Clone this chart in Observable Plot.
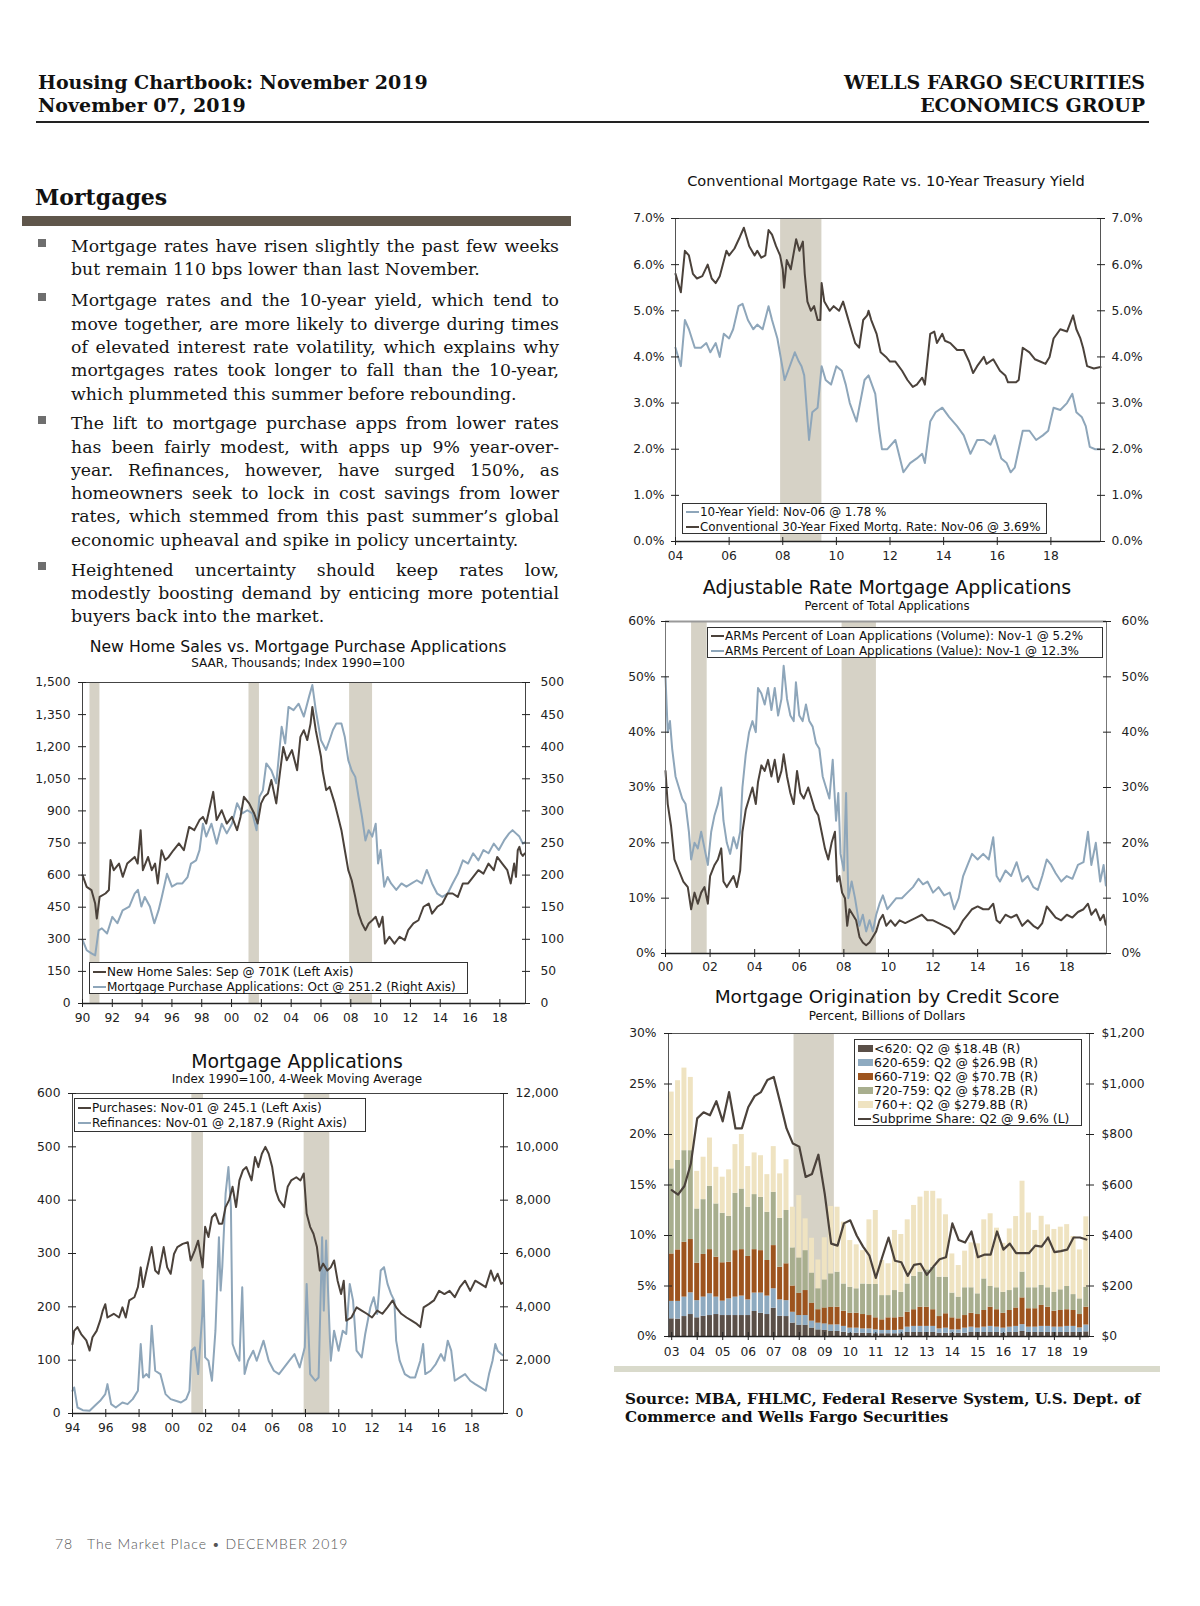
<!DOCTYPE html>
<html><head><meta charset="utf-8">
<script src="https://cdn.jsdelivr.net/npm/d3@7"></script>
<script src="https://cdn.jsdelivr.net/npm/@observablehq/plot@0.6"></script>
<style>
body{margin:0;background:#fff}
#page{position:relative;width:1200px;height:1606px;overflow:hidden;background:#fff;color:#111}
.hdr{position:absolute;font-family:"DejaVu Serif",serif;font-weight:bold;font-size:19px;line-height:22.6px;color:#111;white-space:nowrap}
.para{position:absolute;left:71px;width:488px;font-family:"DejaVu Serif",serif;font-size:17.3px;line-height:23.3px;color:#151515}
.para div{text-align:justify;text-align-last:justify;white-space:nowrap}
.para div.last{text-align-last:left}
.bullet{position:absolute;left:38px;width:8px;height:8px;background:#6e6e6e}
.ctitle{position:absolute;width:560px;text-align:center;font-family:"DejaVu Sans",sans-serif;color:#111;white-space:nowrap}
.legend{position:absolute;border:1px solid #333;background:#fff;font-family:"DejaVu Sans",sans-serif;color:#111;box-sizing:border-box;padding:1px 3px;white-space:nowrap}
.legend .row{display:flex;align-items:center}
</style>
</head><body>
<div id="page">
  <div class="hdr" style="left:38px;top:71px">Housing Chartbook: November 2019<br>November 07, 2019</div>
  <div class="hdr" style="right:55px;top:71px;text-align:right">WELLS FARGO SECURITIES<br>ECONOMICS GROUP</div>
  <div style="position:absolute;left:36px;top:121px;width:1113px;height:2px;background:#222"></div>

  <div style="position:absolute;left:35px;top:183px;font-family:'DejaVu Serif',serif;font-weight:bold;font-size:22px;line-height:28px;color:#111">Mortgages</div>
  <div style="position:absolute;left:22px;top:216px;width:549px;height:10px;background:#5f564b"></div>

  <div id="textblock" style="position:absolute;left:0;top:0;width:600px;height:628px;overflow:hidden">
    <div class="bullet" style="top:239px"></div>
    <div class="para" style="top:235px">
      <div>Mortgage rates have risen slightly the past few weeks</div>
      <div class="last">but remain 110 bps lower than last November.</div>
    </div>
    <div class="bullet" style="top:293px"></div>
    <div class="para" style="top:289.4px">
      <div>Mortgage rates and the 10-year yield, which tend to</div>
      <div>move together, are more likely to diverge during times</div>
      <div>of elevated interest rate volatility, which explains why</div>
      <div>mortgages rates took longer to fall than the 10-year,</div>
      <div class="last">which plummeted this summer before rebounding.</div>
    </div>
    <div class="bullet" style="top:416px"></div>
    <div class="para" style="top:412.3px">
      <div>The lift to mortgage purchase apps from lower rates</div>
      <div>has been fairly modest, with apps up 9% year-over-</div>
      <div>year. Refinances, however, have surged 150%, as</div>
      <div>homeowners seek to lock in cost savings from lower</div>
      <div>rates, which stemmed from this past summer’s global</div>
      <div class="last">economic upheaval and spike in policy uncertainty.</div>
    </div>
    <div class="bullet" style="top:562px"></div>
    <div class="para" style="top:558.7px">
      <div>Heightened uncertainty should keep rates low,</div>
      <div>modestly boosting demand by enticing more potential</div>
      <div class="last">buyers back into the market.</div>
    </div>
  </div>

  <div style="position:absolute;left:614px;top:1366px;width:546px;height:6px;background:#d9dacb"></div>
  <div style="position:absolute;left:625px;top:1390px;font-family:'DejaVu Serif',serif;font-weight:bold;font-size:15.2px;line-height:18px;color:#111;white-space:nowrap">Source: MBA, FHLMC, Federal Reserve System, U.S. Dept. of<br>Commerce and Wells Fargo Securities</div>
  <div style="position:absolute;left:55px;top:1535px;font-family:Lato,sans-serif;font-weight:300;font-size:14px;line-height:18px;color:#555;letter-spacing:0.95px;white-space:nowrap">78&nbsp;&nbsp;&nbsp;The Market Place • DECEMBER 2019</div>
</div>
<script>
// ---------------- DATA ----------------
const recessions9019 = [[1990.5, 1991.17], [2001.17, 2001.87], [2007.92, 2009.46]];

// Chart 1: Conventional mortgage rate vs 10-year yield (%)
const mortgage30 = [[2004.0,5.8],[2004.1,5.6],[2004.2,5.4],[2004.35,6.3],[2004.5,6.2],[2004.65,5.8],[2004.8,5.7],[2005.0,5.75],[2005.2,6.0],[2005.35,5.7],[2005.5,5.6],[2005.65,5.75],[2005.9,6.3],[2006.0,6.2],[2006.2,6.35],[2006.4,6.6],[2006.55,6.8],[2006.65,6.6],[2006.75,6.4],[2006.95,6.2],[2007.05,6.3],[2007.2,6.15],[2007.35,6.2],[2007.47,6.75],[2007.6,6.65],[2007.75,6.4],[2007.9,6.2],[2008.0,5.9],[2008.05,5.5],[2008.15,6.1],[2008.3,5.9],[2008.5,6.55],[2008.62,6.3],[2008.75,6.5],[2008.82,5.8],[2008.92,5.2],[2009.05,5.0],[2009.17,5.1],[2009.3,4.8],[2009.4,4.8],[2009.45,5.6],[2009.55,5.2],[2009.75,5.0],[2009.9,5.1],[2010.1,5.0],[2010.25,5.2],[2010.4,4.9],[2010.55,4.6],[2010.7,4.3],[2010.85,4.2],[2011.0,4.8],[2011.15,4.9],[2011.2,5.0],[2011.3,4.8],[2011.5,4.5],[2011.65,4.1],[2011.85,4.0],[2012.0,3.9],[2012.2,3.9],[2012.45,3.7],[2012.65,3.5],[2012.85,3.35],[2013.0,3.4],[2013.2,3.55],[2013.3,3.4],[2013.5,4.5],[2013.65,4.55],[2013.75,4.3],[2013.95,4.5],[2014.05,4.35],[2014.25,4.3],[2014.5,4.15],[2014.75,4.15],[2014.95,3.9],[2015.1,3.65],[2015.25,3.8],[2015.5,4.0],[2015.6,3.85],[2015.85,3.95],[2016.1,3.7],[2016.3,3.6],[2016.4,3.45],[2016.7,3.45],[2016.8,3.5],[2016.95,4.2],[2017.2,4.1],[2017.4,3.95],[2017.6,3.9],[2017.8,3.85],[2017.95,4.0],[2018.1,4.4],[2018.35,4.6],[2018.6,4.55],[2018.83,4.9],[2018.95,4.6],[2019.1,4.4],[2019.2,4.2],[2019.35,3.8],[2019.6,3.75],[2019.85,3.78]];
const yield10 = [[2004.0,4.2],[2004.1,4.0],[2004.2,3.8],[2004.35,4.8],[2004.5,4.6],[2004.72,4.2],[2004.95,4.2],[2005.15,4.3],[2005.3,4.1],[2005.5,4.3],[2005.65,4.0],[2005.8,4.5],[2006.0,4.4],[2006.15,4.6],[2006.35,5.1],[2006.5,5.15],[2006.7,4.8],[2006.9,4.6],[2007.05,4.7],[2007.25,4.6],[2007.47,5.1],[2007.6,4.8],[2007.7,4.6],[2007.8,4.4],[2007.92,4.0],[2008.07,3.5],[2008.2,3.7],[2008.45,4.1],[2008.6,3.9],[2008.7,3.8],[2008.8,3.6],[2008.98,2.2],[2009.1,2.8],[2009.3,2.9],[2009.45,3.8],[2009.6,3.5],[2009.8,3.4],[2010.0,3.8],[2010.2,3.7],[2010.35,3.4],[2010.5,3.0],[2010.75,2.6],[2010.85,2.9],[2011.05,3.5],[2011.2,3.6],[2011.45,3.2],[2011.6,2.4],[2011.7,2.0],[2011.9,2.0],[2012.2,2.2],[2012.5,1.5],[2012.75,1.7],[2013.0,1.8],[2013.2,1.9],[2013.3,1.7],[2013.5,2.6],[2013.7,2.8],[2013.95,2.9],[2014.2,2.7],[2014.5,2.5],[2014.75,2.3],[2015.0,1.9],[2015.25,2.2],[2015.5,2.2],[2015.75,2.1],[2015.9,2.3],[2016.15,1.8],[2016.35,1.7],[2016.5,1.5],[2016.65,1.6],[2016.95,2.4],[2017.2,2.4],[2017.45,2.2],[2017.7,2.3],[2017.9,2.4],[2018.1,2.9],[2018.35,2.85],[2018.6,3.0],[2018.8,3.2],[2018.95,2.8],[2019.15,2.7],[2019.3,2.5],[2019.45,2.05],[2019.65,2.0],[2019.85,2.0]];
const ratesYTicks = [0, 1, 2, 3, 4, 5, 6, 7];
const ratesXTicks = [2004, 2006, 2008, 2010, 2012, 2014, 2016, 2018];

// Chart 2: ARM share of applications (%)
const armVolume = [[2000.0,33],[2000.05,30],[2000.1,27],[2000.25,23],[2000.4,17],[2000.6,15],[2000.8,13],[2001.0,12],[2001.15,8],[2001.3,11],[2001.45,9],[2001.6,11],[2001.75,12],[2001.9,9],[2002.0,14],[2002.2,16],[2002.35,17],[2002.5,19],[2002.6,13],[2002.75,12],[2002.9,13],[2003.05,14],[2003.2,12],[2003.35,15],[2003.45,22],[2003.6,26],[2003.75,28],[2003.9,30],[2004.05,27],[2004.15,31],[2004.3,34],[2004.45,33],[2004.6,35],[2004.75,32],[2004.9,35],[2005.05,31],[2005.2,33],[2005.3,36],[2005.45,32],[2005.6,29],[2005.75,27],[2005.9,33],[2006.05,29],[2006.2,28],[2006.4,30],[2006.55,28],[2006.7,26],[2006.85,25],[2007.0,22],[2007.15,19],[2007.3,17],[2007.45,20],[2007.6,22],[2007.7,13],[2007.8,14],[2007.92,11],[2008.05,10],[2008.15,5],[2008.25,8],[2008.4,7],[2008.55,6],[2008.7,3],[2008.85,2],[2009.0,1.5],[2009.15,2],[2009.3,3],[2009.45,4],[2009.6,6],[2009.75,7],[2009.9,5],[2010.1,6],[2010.3,5],[2010.5,6],[2010.75,5.5],[2011.0,6],[2011.25,6.5],[2011.5,7],[2011.75,6],[2012.0,6],[2012.25,5.5],[2012.5,5],[2012.75,4.5],[2012.95,3.5],[2013.15,4.5],[2013.35,6],[2013.55,7],[2013.75,8],[2014.0,8.5],[2014.25,8],[2014.5,8],[2014.7,9],[2014.85,6],[2015.0,5.5],[2015.25,7],[2015.5,6.5],[2015.75,7],[2016.0,5],[2016.25,6],[2016.5,5],[2016.7,4.5],[2016.9,5.5],[2017.1,8.5],[2017.3,7.5],[2017.5,6.5],[2017.75,6],[2018.0,7],[2018.25,6.5],[2018.5,7.5],[2018.75,8],[2018.95,9],[2019.1,7],[2019.3,8],[2019.5,6],[2019.65,7],[2019.75,5.2]];
const armValue = [[2000.0,50],[2000.05,45],[2000.1,40],[2000.2,42],[2000.3,37],[2000.45,32],[2000.6,30],[2000.75,28],[2000.9,27],[2001.05,22],[2001.15,17],[2001.3,20],[2001.45,19],[2001.6,22],[2001.75,19],[2001.9,16],[2002.05,22],[2002.2,25],[2002.35,27],[2002.5,30],[2002.6,24],[2002.75,20],[2002.9,18],[2003.05,21],[2003.2,19],[2003.35,22],[2003.45,30],[2003.6,36],[2003.75,40],[2003.9,42],[2004.05,40],[2004.15,48],[2004.3,47],[2004.45,45],[2004.6,48],[2004.75,44],[2004.9,48],[2005.05,43],[2005.2,46],[2005.3,52],[2005.45,46],[2005.6,43],[2005.75,42],[2005.85,49],[2006.0,43],[2006.15,42],[2006.3,45],[2006.45,42],[2006.6,41],[2006.75,38],[2006.9,37],[2007.05,32],[2007.2,30],[2007.35,28],[2007.5,35],[2007.65,24],[2007.75,29],[2007.85,18],[2008.0,15],[2008.1,29],[2008.2,10],[2008.35,13],[2008.5,10],[2008.7,5],[2008.85,7],[2009.0,4],[2009.15,6],[2009.3,4],[2009.45,7],[2009.6,9],[2009.75,10.5],[2009.95,8],[2010.15,9],[2010.35,10],[2010.6,10],[2010.85,11],[2011.1,12],[2011.35,13.5],[2011.55,12.5],[2011.75,13],[2012.0,11],[2012.25,12],[2012.5,10.5],[2012.75,11],[2012.95,8],[2013.15,10],[2013.35,14],[2013.55,16],[2013.75,18],[2014.0,17],[2014.25,18],[2014.5,17],[2014.7,21],[2014.85,14],[2015.0,13],[2015.25,15],[2015.5,14],[2015.75,16.5],[2016.0,13],[2016.25,14],[2016.5,12],[2016.7,11.5],[2016.9,14],[2017.1,17],[2017.3,16],[2017.5,14.5],[2017.75,13],[2018.0,14],[2018.25,13.5],[2018.5,16],[2018.75,16.5],[2018.95,22],[2019.1,16],[2019.3,20],[2019.5,13],[2019.65,16],[2019.75,12.3]];
const armYTicks = [0, 10, 20, 30, 40, 50, 60];
const armXTicks = [2000, 2002, 2004, 2006, 2008, 2010, 2012, 2014, 2016, 2018];

// Chart 3: New home sales (thousands, left) vs purchase applications index (right)
const newHomeSales = [[1990.0,600],[1990.28,545],[1990.6,530],[1990.85,467],[1990.96,397],[1991.15,498],[1991.54,514],[1991.77,530],[1991.88,670],[1992.1,623],[1992.45,654],[1992.7,592],[1993.0,654],[1993.5,685],[1993.7,654],[1993.9,810],[1994.05,623],[1994.4,685],[1994.65,623],[1994.87,654],[1995.05,561],[1995.3,716],[1995.55,670],[1995.78,685],[1996.1,716],[1996.47,748],[1996.8,716],[1997.15,825],[1997.5,810],[1997.85,857],[1998.08,872],[1998.3,841],[1998.77,989],[1999.0,857],[1999.34,903],[1999.68,841],[2000.03,872],[2000.37,810],[2000.6,872],[2000.83,966],[2001.18,935],[2001.52,888],[2001.75,841],[2001.98,935],[2002.2,966],[2002.44,981],[2002.67,1044],[2003.0,935],[2003.24,1075],[2003.47,1199],[2003.7,1137],[2004.05,1184],[2004.4,1090],[2004.62,1246],[2004.85,1277],[2005.08,1231],[2005.3,1308],[2005.42,1386],[2005.65,1277],[2006.0,1153],[2006.1,1090],[2006.35,997],[2006.58,1012],[2006.92,935],[2007.15,872],[2007.37,810],[2007.6,716],[2007.83,623],[2008.06,576],[2008.3,498],[2008.52,420],[2008.75,374],[2008.98,343],[2009.2,374],[2009.44,389],[2009.67,405],[2009.9,358],[2010.0,374],[2010.13,405],[2010.29,280],[2010.59,312],[2010.93,280],[2011.27,312],[2011.62,296],[2011.85,343],[2012.2,374],[2012.54,389],[2012.88,452],[2013.23,467],[2013.45,420],[2013.8,452],[2014.14,467],[2014.49,514],[2014.83,514],[2015.18,498],[2015.52,561],[2015.87,561],[2016.21,592],[2016.56,623],[2016.9,607],[2017.24,654],[2017.59,623],[2017.82,685],[2018.16,654],[2018.5,623],[2018.73,561],[2018.96,654],[2019.08,592],[2019.2,716],[2019.31,732],[2019.42,701],[2019.54,690],[2019.67,701]];
const purchaseIndex = [[1990.0,99],[1990.28,83],[1990.6,78],[1990.85,75],[1991.08,114],[1991.3,117],[1991.65,109],[1992.0,135],[1992.34,125],[1992.69,145],[1993.14,151],[1993.5,171],[1993.72,177],[1993.95,151],[1994.18,166],[1994.52,151],[1994.82,125],[1995.1,145],[1995.32,166],[1995.67,202],[1996.0,182],[1996.36,187],[1996.7,187],[1997.05,197],[1997.28,218],[1997.62,223],[1997.85,239],[1998.08,280],[1998.3,260],[1998.65,280],[1999.0,249],[1999.34,280],[1999.68,265],[2000.03,280],[2000.37,312],[2000.72,296],[2001.06,301],[2001.4,296],[2001.68,270],[2001.87,322],[2002.1,332],[2002.33,374],[2002.67,363],[2003.0,343],[2003.36,431],[2003.6,405],[2003.82,462],[2004.16,457],[2004.5,467],[2004.85,447],[2005.2,478],[2005.42,496],[2005.65,457],[2006.0,410],[2006.34,395],[2006.57,410],[2006.8,426],[2007.03,436],[2007.37,436],[2007.6,415],[2007.83,379],[2008.06,363],[2008.3,353],[2008.52,322],[2008.75,291],[2008.98,254],[2009.2,270],[2009.44,260],[2009.67,280],[2009.83,218],[2010.0,239],[2010.24,182],[2010.47,197],[2010.7,187],[2011.05,177],[2011.4,187],[2011.73,182],[2012.08,187],[2012.43,192],[2012.77,187],[2013.1,208],[2013.45,187],[2013.8,171],[2014.14,166],[2014.49,171],[2014.83,187],[2015.18,202],[2015.52,223],[2015.87,218],[2016.21,234],[2016.56,223],[2016.9,239],[2017.24,234],[2017.59,249],[2017.93,239],[2018.28,254],[2018.62,265],[2018.85,270],[2019.08,265],[2019.31,260],[2019.54,249],[2019.67,251]];
const salesYTicks = [0, 150, 300, 450, 600, 750, 900, 1050, 1200, 1350, 1500];
const indexYTicks = [0, 50, 100, 150, 200, 250, 300, 350, 400, 450, 500];
const salesXTicks = [1990, 1992, 1994, 1996, 1998, 2000, 2002, 2004, 2006, 2008, 2010, 2012, 2014, 2016, 2018];

// Chart 4: Mortgage applications, purchases (left) and refinances (right)
const purchases = [[1994.0,130],[1994.1,155],[1994.3,162],[1994.52,149],[1994.83,137],[1995.03,118],[1995.2,143],[1995.45,155],[1995.66,174],[1995.82,193],[1995.97,205],[1996.1,180],[1996.48,187],[1996.8,180],[1997.0,199],[1997.2,180],[1997.41,212],[1997.72,218],[1997.93,237],[1998.1,274],[1998.24,237],[1998.45,268],[1998.76,312],[1998.97,268],[1999.17,262],[1999.48,312],[1999.69,274],[1999.9,262],[2000.1,299],[2000.3,312],[2000.62,318],[2000.93,321],[2001.1,287],[2001.35,306],[2001.55,324],[2001.82,274],[2001.97,350],[2002.17,331],[2002.38,368],[2002.59,375],[2002.8,356],[2003.0,356],[2003.2,387],[2003.41,400],[2003.62,425],[2003.83,387],[2004.03,437],[2004.24,456],[2004.45,462],[2004.76,437],[2004.97,481],[2005.17,462],[2005.38,487],[2005.59,500],[2005.79,487],[2006.0,462],[2006.21,418],[2006.41,400],[2006.72,387],[2006.93,425],[2007.14,437],[2007.45,443],[2007.7,437],[2007.9,450],[2008.07,375],[2008.28,350],[2008.48,337],[2008.69,312],[2008.86,268],[2009.06,281],[2009.31,268],[2009.52,274],[2009.72,287],[2009.93,249],[2010.14,224],[2010.3,249],[2010.45,174],[2010.76,180],[2011.07,199],[2011.38,193],[2011.69,187],[2012.0,180],[2012.31,193],[2012.62,187],[2012.93,199],[2013.24,212],[2013.45,199],[2013.76,187],[2014.07,180],[2014.38,174],[2014.69,168],[2014.9,162],[2015.1,199],[2015.41,205],[2015.72,212],[2016.03,230],[2016.35,224],[2016.66,230],[2016.97,218],[2017.28,237],[2017.59,249],[2017.9,230],[2018.2,249],[2018.52,243],[2018.83,237],[2019.14,268],[2019.35,249],[2019.55,262],[2019.76,243],[2019.86,245]];
const refinances = [[1994.0,852],[1994.1,977],[1994.3,225],[1994.62,125],[1995.03,100],[1995.34,288],[1995.66,476],[1995.97,727],[1996.1,1102],[1996.32,351],[1996.6,225],[1997.0,413],[1997.31,351],[1997.62,539],[1997.93,852],[1998.1,2605],[1998.24,1353],[1998.45,1478],[1998.6,1353],[1998.76,3294],[1998.97,1603],[1999.28,1478],[1999.59,727],[1999.9,539],[2000.2,476],[2000.52,413],[2000.83,539],[2001.03,852],[2001.14,2355],[2001.35,2480],[2001.55,1478],[2001.8,3733],[2001.86,4985],[2001.97,2104],[2002.17,1979],[2002.38,1228],[2002.59,3106],[2002.8,6614],[2002.9,4610],[2003.0,5487],[2003.2,8242],[2003.37,9244],[2003.52,7741],[2003.62,2605],[2003.83,2230],[2004.03,1979],[2004.2,4735],[2004.34,1478],[2004.55,1979],[2004.86,2355],[2005.07,1979],[2005.48,2731],[2005.79,1979],[2006.1,1603],[2006.41,1478],[2006.72,1729],[2007.03,1979],[2007.34,2230],[2007.65,1729],[2007.96,2480],[2008.07,4860],[2008.28,1478],[2008.59,1228],[2008.79,1353],[2009.0,6614],[2009.1,3858],[2009.24,6489],[2009.41,3733],[2009.52,1979],[2009.72,3106],[2009.99,2355],[2010.24,3106],[2010.45,2981],[2010.66,4860],[2010.86,4234],[2011.07,2355],[2011.38,2104],[2011.59,2981],[2011.9,3983],[2012.1,4359],[2012.31,3733],[2012.52,5361],[2012.72,5487],[2012.93,4860],[2013.14,4484],[2013.34,4234],[2013.45,2731],[2013.66,1979],[2013.97,1478],[2014.28,1353],[2014.59,1353],[2014.9,1979],[2015.07,2605],[2015.2,1478],[2015.52,1603],[2015.83,1854],[2016.14,2230],[2016.35,1979],[2016.55,2731],[2016.76,2355],[2016.97,1228],[2017.28,1353],[2017.59,1478],[2017.9,1228],[2018.2,1102],[2018.52,977],[2018.83,852],[2019.03,1478],[2019.24,1979],[2019.41,2605],[2019.55,2355],[2019.76,2230],[2019.86,2188]];
const appsYTicks = [0, 100, 200, 300, 400, 500, 600];
const refiYTicks = [0, 2000, 4000, 6000, 8000, 10000, 12000];
const appsXTicks = [1994, 1996, 1998, 2000, 2002, 2004, 2006, 2008, 2010, 2012, 2014, 2016, 2018];

// Chart 5: Mortgage origination by credit score (quarterly, 2003Q1-2019Q2, $B) and subprime share (%)
const originYears = [2003, 2004, 2005, 2006, 2007, 2008, 2009, 2010, 2011, 2012, 2013, 2014, 2015, 2016, 2017, 2018, 2019];
const scoreBands = ["<620", "620-659", "660-719", "720-759", "760+"];
const scoreColors = ["#5a4f48", "#8eaac0", "#9d541e", "#a8ae8e", "#efe3c1"];
const under620 = [70,69,79,87,74,80,83,87,83,83,83,83,83,99,92,87,112,80,79,53,44,44,33,26,24,20,20,17,13,13,13,12,11,11,11,11,11,16,16,16,16,16,13,13,13,13,13,16,16,16,16,16,13,16,16,20,16,16,16,16,16,16,16,16,16,18.4];
const s620to659 = [69,70,77,86,68,76,86,69,57,66,73,77,62,73,80,73,77,65,63,43,39,39,28,27,26,26,26,23,20,20,17,18,15,13,13,13,15,21,24,24,24,24,17,20,13,13,20,21,17,21,24,21,20,21,24,27,21,21,24,24,21,21,24,24,18,26.9];
const s660to719 = [188,204,217,211,148,169,175,158,152,145,184,184,172,172,168,141,171,129,146,104,88,99,71,53,63,70,70,60,59,59,57,53,48,42,50,50,51,59,66,76,76,66,49,57,48,44,50,55,54,66,76,69,59,66,73,106,73,73,83,76,63,66,66,63,53,70.7];
const s720to759 = [337,354,363,352,215,217,251,211,196,182,227,240,195,218,211,191,211,194,211,151,140,158,119,83,111,132,139,108,103,97,121,123,132,96,88,108,98,112,132,139,148,168,156,145,98,86,110,101,82,125,82,87,83,79,80,102,83,83,79,77,75,82,92,63,62,78.2];
const s760plus = [304,316,327,290,149,168,191,145,143,184,193,216,161,165,165,149,181,176,201,161,247,126,138,114,167,267,257,245,185,174,132,256,293,139,126,238,229,254,281,297,311,301,310,247,155,125,145,178,198,234,288,236,194,244,282,360,296,227,274,249,249,248,245,230,194,279.8];
const subprimeShare = [14.5,14.05,14.9,17.1,21.6,22.2,21.9,23.3,21.3,24.2,20.6,20.6,22.7,23.8,24.2,25.4,25.7,23.2,20.6,19.1,18.8,15.8,16.1,18.0,14.1,9.2,9.0,11.2,11.5,10.0,8.9,8.0,5.8,7.85,9.8,7.5,7.35,6.0,7.1,7.2,6.1,6.9,7.65,7.85,11.2,9.55,9.3,10.4,7.85,8.1,8.1,10.4,8.6,9.2,8.25,8.25,8.25,9.0,8.9,9.8,8.35,8.45,8.6,9.8,9.8,9.6];
const shareYTicks = [0, 5, 10, 15, 20, 25, 30];
const dollarTicks = [0, 200, 400, 600, 800, 1000, 1200];
const recessionOrig = [[2007.92, 2009.5]];

// ---------------- STYLES ----------------
const DARK = "#4b423b", BLUE = "#8ea6ba", REC = "#d6d2c6";
const page = document.getElementById("page");
const yy = v => String(Math.round(v) % 100).padStart(2, "0");

function place(node, left, top, clipH) {
  const d = document.createElement("div");
  d.style.cssText = `position:absolute;left:${left}px;top:${top}px;` + (clipH ? `height:${clipH}px;overflow:hidden;` : "");
  d.append(node);
  page.append(d);
}
function title(cx, cy, text, size) {
  const d = document.createElement("div");
  d.className = "ctitle";
  d.style.left = (cx - 280) + "px";
  d.style.top = (cy - size * 0.6) + "px";
  d.style.fontSize = size + "px";
  d.style.lineHeight = (size * 1.2) + "px";
  d.textContent = text;
  page.append(d);
}
function legend(left, top, w, h, fs, rowH, items) {
  const d = document.createElement("div");
  d.className = "legend";
  d.style.cssText += `left:${left}px;top:${top}px;width:${w}px;height:${h}px;font-size:${fs}px;`;
  for (const it of items) {
    const r = document.createElement("div");
    r.className = "row";
    r.style.height = rowH + "px";
    const sw = document.createElement("span");
    sw.style.cssText = it.box
      ? `display:inline-block;width:15px;height:7px;background:${it.color};margin-right:1px;flex:none`
      : `display:inline-block;width:13px;height:2px;background:${it.color};margin-right:1px;flex:none`;
    const t = document.createElement("span");
    t.textContent = it.text;
    r.append(sw, t);
    d.append(r);
  }
  page.append(d);
}
function axes({xTicks, xFmt, yTicks, yFmt, rFmt, lPad, rPad, xPad}) {
  return [
    Plot.axisY(yTicks, {anchor: "left", tickSize: 8, dx: 4, tickFormat: () => "", label: null}),
    Plot.axisY(yTicks, {anchor: "left", tickSize: 0, tickPadding: lPad, tickFormat: yFmt, label: null}),
    Plot.axisY(yTicks, {anchor: "right", tickSize: 8, dx: -4, tickFormat: () => "", label: null}),
    Plot.axisY(yTicks, {anchor: "right", tickSize: 0, tickPadding: rPad, tickFormat: rFmt, label: null}),
    Plot.axisX(xTicks, {anchor: "bottom", tickSize: 8, dy: -4, tickFormat: () => "", label: null}),
    Plot.axisX(xTicks, {anchor: "bottom", tickSize: 0, tickPadding: xPad, tickFormat: xFmt, label: null})
  ];
}
const baseStyle = {fontFamily: "DejaVu Sans, sans-serif", fontSize: "12.3px", color: "#222", background: "transparent", overflow: "visible"};

// ---------------- CHART 1 ----------------
{
  const top = ratesYTicks[ratesYTicks.length - 1];
  const chart = Plot.plot({
    width: 530, height: 360, marginLeft: 60, marginRight: 45, marginTop: 13, marginBottom: 24,
    x: {domain: [2004, 2019.85]}, y: {domain: [0, top]},
    style: baseStyle,
    marks: [
      Plot.rect(recessions9019.filter(r => r[0] > 2004), {x1: d => d[0], x2: d => d[1], y1: () => 0, y2: () => top, fill: REC}),
      Plot.line(yield10, {x: d => d[0], y: d => d[1], stroke: BLUE, strokeWidth: 2}),
      Plot.line(mortgage30, {x: d => d[0], y: d => d[1], stroke: DARK, strokeWidth: 2}),
      Plot.frame({stroke: "#555"}),
      Plot.ruleY([0], {stroke: "#222", strokeWidth: 1.6}),
      ...axes({xTicks: ratesXTicks, xFmt: yy, yTicks: ratesYTicks, yFmt: v => v.toFixed(1) + "%", rFmt: v => v.toFixed(1) + "%", lPad: 11, rPad: 11, xPad: 10})
    ]
  });
  place(chart, 615, 205);
  title(886, 181, "Conventional Mortgage Rate vs. 10-Year Treasury Yield", 14.6);
  legend(682, 503, 365, 31, 11.9, 14.5, [
    {color: BLUE, text: "10-Year Yield: Nov-06 @ 1.78 %"},
    {color: DARK, text: "Conventional 30-Year Fixed Mortg. Rate: Nov-06 @ 3.69%"}
  ]);
}

// ---------------- CHART 2 ----------------
{
  const top = armYTicks[armYTicks.length - 1];
  const chart = Plot.plot({
    width: 550, height: 380, marginLeft: 55, marginRight: 54, marginTop: 13, marginBottom: 35,
    x: {domain: [2000, 2019.78]}, y: {domain: [0, top]},
    style: baseStyle,
    marks: [
      Plot.rect(recessions9019.filter(r => r[0] > 2000), {x1: d => d[0], x2: d => d[1], y1: () => 0, y2: () => top, fill: REC}),
      Plot.line(armValue, {x: d => d[0], y: d => d[1], stroke: BLUE, strokeWidth: 2}),
      Plot.line(armVolume, {x: d => d[0], y: d => d[1], stroke: DARK, strokeWidth: 2}),
      Plot.frame({stroke: "#777"}),
      Plot.ruleY([top], {stroke: "#999", strokeWidth: 2}),
      Plot.ruleY([0], {stroke: "#222", strokeWidth: 1.6}),
      ...axes({xTicks: armXTicks, xFmt: yy, yTicks: armYTicks, yFmt: v => v + "%", rFmt: v => v + "%", lPad: 10, rPad: 15, xPad: 9})
    ]
  });
  place(chart, 610, 608);
  title(887, 587, "Adjustable Rate Mortgage Applications", 19);
  title(887, 606, "Percent of Total Applications", 11.7);
  legend(707, 627, 396, 31, 12, 14.5, [
    {color: DARK, text: "ARMs Percent of Loan Applications (Volume): Nov-1 @ 5.2%"},
    {color: BLUE, text: "ARMs Percent of Loan Applications (Value): Nov-1 @ 12.3%"}
  ]);
}

// ---------------- CHART 3 ----------------
{
  const top = salesYTicks[salesYTicks.length - 1];
  const k = top / indexYTicks[indexYTicks.length - 1];
  const chart = Plot.plot({
    width: 550, height: 360, marginLeft: 62, marginRight: 45, marginTop: 12, marginBottom: 27,
    x: {domain: [1990, 2019.72]}, y: {domain: [0, top]},
    style: baseStyle,
    marks: [
      Plot.rect(recessions9019, {x1: d => d[0], x2: d => d[1], y1: () => 0, y2: () => top, fill: REC}),
      Plot.line(purchaseIndex, {x: d => d[0], y: d => d[1] * k, stroke: BLUE, strokeWidth: 2}),
      Plot.line(newHomeSales, {x: d => d[0], y: d => d[1], stroke: DARK, strokeWidth: 2}),
      Plot.frame({stroke: "#444"}),
      Plot.ruleY([0], {stroke: "#222", strokeWidth: 1.6}),
      ...axes({xTicks: salesXTicks, xFmt: yy, yTicks: salesYTicks, yFmt: d3.format(","), rFmt: v => d3.format(",")(v / k), lPad: 12, rPad: 15, xPad: 10})
    ]
  });
  place(chart, 20, 670);
  title(298, 647, "New Home Sales vs. Mortgage Purchase Applications", 15.7);
  title(298, 663.5, "SAAR, Thousands; Index 1990=100", 12);
  legend(89, 962, 379, 32, 12, 15, [
    {color: DARK, text: "New Home Sales: Sep @ 701K (Left Axis)"},
    {color: BLUE, text: "Mortgage Purchase Applications: Oct @ 251.2 (Right Axis)"}
  ]);
}

// ---------------- CHART 4 ----------------
{
  const top = appsYTicks[appsYTicks.length - 1];
  const k = refiYTicks[refiYTicks.length - 1] / top;
  const chart = Plot.plot({
    width: 550, height: 360, marginLeft: 52, marginRight: 67, marginTop: 13, marginBottom: 27,
    x: {domain: [1994, 2019.9]}, y: {domain: [0, top]},
    style: baseStyle,
    marks: [
      Plot.rect(recessions9019.filter(r => r[0] > 1994), {x1: d => d[0], x2: d => d[1], y1: () => 0, y2: () => top, fill: REC}),
      Plot.line(refinances, {x: d => d[0], y: d => d[1] / k, stroke: BLUE, strokeWidth: 2}),
      Plot.line(purchases, {x: d => d[0], y: d => d[1], stroke: DARK, strokeWidth: 2}),
      Plot.frame({stroke: "#444"}),
      Plot.ruleY([0], {stroke: "#222", strokeWidth: 1.6}),
      ...axes({xTicks: appsXTicks, xFmt: yy, yTicks: appsYTicks, yFmt: d3.format(","), rFmt: v => d3.format(",")(v * k), lPad: 12, rPad: 12, xPad: 10})
    ]
  });
  place(chart, 20, 1080);
  title(297, 1061, "Mortgage Applications", 18.9);
  title(297, 1079, "Index 1990=100, 4-Week Moving Average", 11.9);
  legend(74, 1098, 292, 34, 12, 15.5, [
    {color: DARK, text: "Purchases: Nov-01 @ 245.1 (Left Axis)"},
    {color: BLUE, text: "Refinances: Nov-01 @ 2,187.9 (Right Axis)"}
  ]);
}

// ---------------- CHART 5 ----------------
{
  const top = shareYTicks[shareYTicks.length - 1];
  const k = dollarTicks[dollarTicks.length - 1] / top;
  const series = [under620, s620to659, s660to719, s720to759, s760plus];
  const quarters = under620.map((_, i) => originYears[0] + i / 4);
  const bars = [];
  quarters.forEach((t, i) => {
    let acc = 0;
    series.forEach((s, j) => {
      bars.push({x1: t, x2: t + 0.25, y1: acc / k, y2: (acc + s[i]) / k, band: scoreBands[j]});
      acc += s[i];
    });
  });
  const share = subprimeShare.map((v, i) => ({t: quarters[i] + 0.125, v}));
  const chart = Plot.plot({
    width: 550, height: 350, marginLeft: 58, marginRight: 71, marginTop: 13, marginBottom: 34,
    x: {domain: [2003, 2019.5]}, y: {domain: [0, top]},
    color: {domain: scoreBands, range: scoreColors},
    style: baseStyle,
    marks: [
      Plot.rect(recessionOrig, {x1: d => d[0], x2: d => d[1], y1: () => 0, y2: () => top, fill: REC}),
      Plot.rect(bars, {x1: "x1", x2: "x2", y1: "y1", y2: "y2", fill: "band", insetLeft: 0.7, insetRight: 0.7}),
      Plot.line(share, {x: "t", y: "v", stroke: DARK, strokeWidth: 2.2}),
      Plot.frame({stroke: "#555"}),
      Plot.ruleY([0], {stroke: "#222", strokeWidth: 1.6}),
      ...axes({xTicks: originYears.map(y => y + 0.125), xFmt: yy, yTicks: shareYTicks, yFmt: v => v + "%", rFmt: v => "$" + d3.format(",")(v * k), lPad: 12, rPad: 12, xPad: 11})
    ]
  });
  place(chart, 610, 1020);
  title(887, 997, "Mortgage Origination by Credit Score", 18.5);
  title(887, 1016, "Percent, Billions of Dollars", 12);
  legend(854, 1039, 228, 87, 12.4, 14.1, [
    {color: scoreColors[0], box: true, text: "<620: Q2 @ $18.4B (R)"},
    {color: scoreColors[1], box: true, text: "620-659: Q2 @ $26.9B (R)"},
    {color: scoreColors[2], box: true, text: "660-719: Q2 @ $70.7B (R)"},
    {color: scoreColors[3], box: true, text: "720-759: Q2 @ $78.2B (R)"},
    {color: scoreColors[4], box: true, text: "760+: Q2 @ $279.8B (R)"},
    {color: DARK, text: "Subprime Share: Q2 @ 9.6% (L)"}
  ]);
}
</script>
</body></html>
